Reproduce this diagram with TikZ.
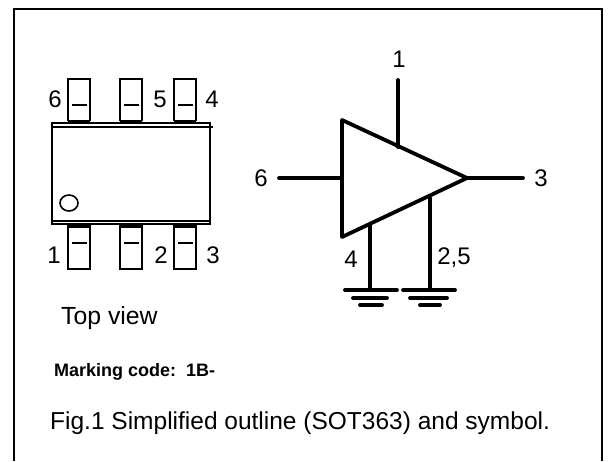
\documentclass[tikz,border=0pt]{standalone}
\usepackage{fontspec}
\setmainfont{Liberation Sans}
\tikzset{
  frame/.style={draw=black,line width=2.6pt},
  body/.style={draw=black,line width=2pt},
  pin/.style={draw=black,line width=2pt},
  thin mark/.style={draw=black,line width=1.6pt},
  sym/.style={draw=black,line width=3.8pt,line cap=round},
  lbl/.style={inner sep=0pt,font=\fontsize{24}{26}\selectfont,anchor=center},
  txt/.style={inner sep=0pt,anchor=base west},
}
\begin{document}
\begin{tikzpicture}[x=1pt,y=-1pt]
\useasboundingbox (0,0) rectangle (608,461);
\fill[white] (0,0) rectangle (608,461);
\draw[frame] (14,461) -- (14,9) -- (602,9) -- (602,461);
% package
\foreach \a/\b in {68/90,120/142,174/196}{
  \draw[pin] (\a,121) -- (\a,79) -- (\b,79) -- (\b,121);
  \draw[line width=3pt] (\a,121) -- (\b,121);
  \draw[thin mark] (\a+4,105) -- (\b-3,105);
  \draw[pin] (\a,225) -- (\a,269) -- (\b,269) -- (\b,225);
  \draw[line width=3pt] (\a,226) -- (\b,226);
  \draw[thin mark] (\a+4,243) -- (\b-3,243);
}
\draw[body] (52,123) rectangle (210,224);
\draw[body] (52,127) -- (213,127);
\draw[body] (52,221) -- (210,221);
\draw[line width=1.6pt] (69,203) ellipse (9pt and 8pt);
% symbol
\coordinate (t1) at (342,120);
\coordinate (t2) at (342,237);
\coordinate (t3) at (467,178);
\draw[sym,line join=round] (t1) -- (t3) -- (t2) -- cycle;
\coordinate (p1) at (398,80);
\coordinate (p1b) at (398,147);
\coordinate (p6) at (279,178);
\coordinate (p6b) at (342,178);
\coordinate (p3) at (523,178);
\coordinate (p4) at (370,224);
\coordinate (g1) at (370,290);
\coordinate (p2) at (430,198);
\coordinate (g2) at (430,290);
\draw[sym] (p1) -- (p1b);
\draw[sym] (p6) -- (p6b);
\draw[sym] (t3) -- (p3);
\draw[sym] (p4) -- (g1);
\draw[sym] (p2) -- (g2);
\draw[sym] (345,290) -- (397,290);
\draw[sym] (353,298) -- (387,298);
\draw[sym] (360,305) -- (382,305);
\draw[sym] (403,290) -- (455,290);
\draw[sym] (410,298) -- (447,298);
\draw[sym] (420,305) -- (440,305);
% labels
\node[lbl] (n6a) at (55,99) {6};
\node[lbl] (n5a) at (160,99) {5};
\node[lbl] (n4a) at (212,99) {4};
\node[lbl] (n1a) at (54,255) {1};
\node[lbl] (n2a) at (161,255) {2};
\node[lbl] (n3a) at (213,255) {3};
\node[lbl] (s1) at (399,59) {1};
\node[lbl] (s6) at (261,178) {6};
\node[lbl] (s3) at (541,178) {3};
\node[lbl] (s4) at (351,259) {4};
\node[lbl] (s25) at (454,258) {2,5};
\node[txt,font=\fontsize{24.8}{27}\selectfont] (tv) at (61,324) {Top view};
\node[txt,font=\bfseries\fontsize{18}{20}\selectfont] (mc) at (54,376) {Marking code:\ \ 1B-};
\node[txt,font=\fontsize{24.5}{27}\selectfont] (fig) at (50,429) {Fig.1 Simplified outline (SOT363) and symbol.};
\end{tikzpicture}
\end{document}
